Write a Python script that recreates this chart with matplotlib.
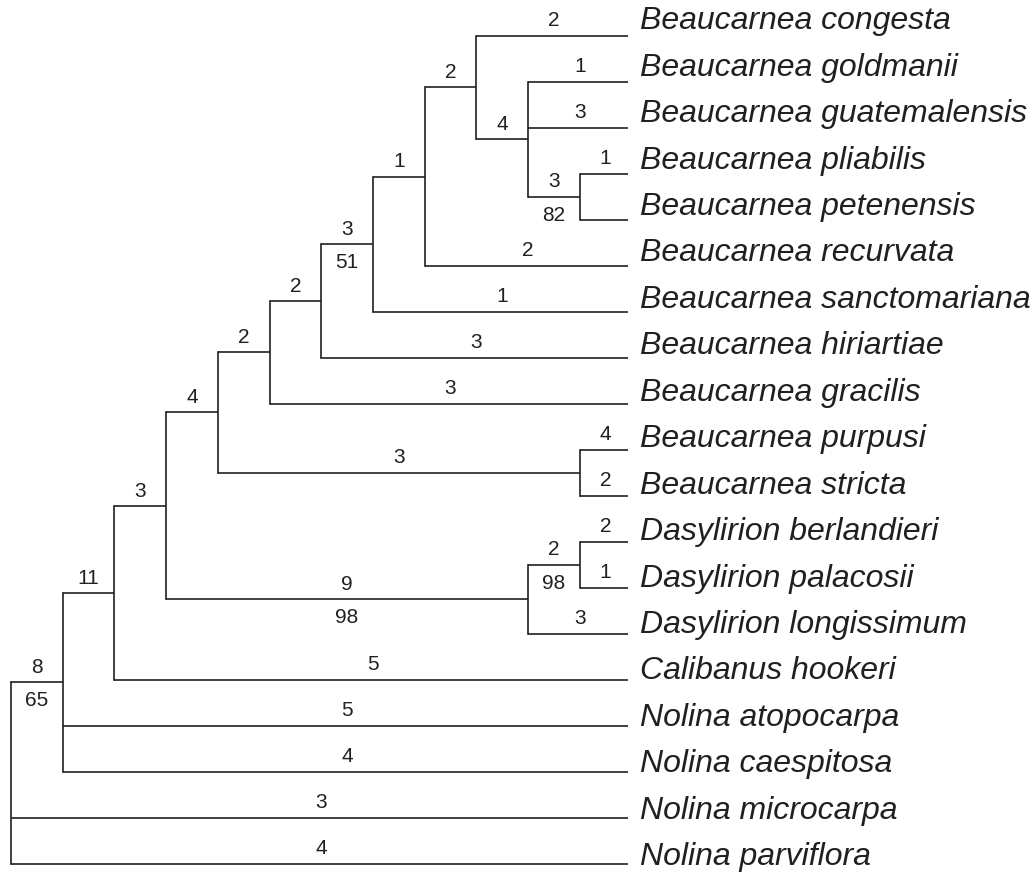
#!/usr/bin/env python

import matplotlib
matplotlib.use("Agg")
import matplotlib.pyplot as plt

plt.rcParams['font.family'] = ['Liberation Sans', 'DejaVu Sans']

# tips, top to bottom
taxa = ['Beaucarnea congesta', 'Beaucarnea goldmanii', 'Beaucarnea guatemalensis',
        'Beaucarnea pliabilis', 'Beaucarnea petenensis', 'Beaucarnea recurvata',
        'Beaucarnea sanctomariana', 'Beaucarnea hiriartiae', 'Beaucarnea gracilis',
        'Beaucarnea purpusi', 'Beaucarnea stricta', 'Dasylirion berlandieri',
        'Dasylirion palacosii', 'Dasylirion longissimum', 'Calibanus hookeri',
        'Nolina atopocarpa', 'Nolina caespitosa', 'Nolina microcarpa', 'Nolina parviflora']
tip_parent = ['I', 'J', 'J', 'K', 'K', 'H', 'G', 'F', 'E', 'L', 'L', 'N', 'N', 'M',
              'B', 'A', 'A', 'root', 'root']
tip_steps = [2, 1, 3, 1, None, 2, 1, 3, 3, 4, 2, 2, 1, 3, 5, 5, 4, 3, 4]

# internal nodes
nodes = ['root', 'A', 'B', 'C', 'D', 'E', 'F', 'G', 'H', 'I', 'J', 'K', 'L', 'M', 'N']
node_parent = [None, 'root', 'A', 'B', 'C', 'D', 'E', 'F', 'G', 'H', 'I', 'J', 'D', 'C', 'M']
node_steps = [None, 8, 11, 3, 4, 2, 2, 3, 1, 2, 4, 3, 3, 9, 2]
node_boot = [None, 65, None, None, None, None, None, 51, None, None, None, 82, None, 98, 98]

ink = '#231f20'

children = {n: [] for n in nodes}
for n, p in zip(nodes, node_parent):
    if p is not None:
        children[p].append(('node', n))
for i, p in enumerate(tip_parent):
    children[p].append(('tip', i))

height = {}
ypos = {}


def layout(n):
    hs, ys = [], []
    for kind, c in children[n]:
        if kind == 'tip':
            hs.append(0)
            ys.append(c)
        else:
            layout(c)
            hs.append(height[c])
            ys.append(ypos[c])
    height[n] = 1 + max(hs)
    ypos[n] = (min(ys) + max(ys)) / 2.0


layout('root')
top = height['root']
xpos = {n: top - height[n] for n in nodes}

fig = plt.figure(figsize=(10.34, 8.77), dpi=100)
ax = fig.add_axes([0, 0, 1, 1])
ax.set_xlim(-0.2128, 19.787)
ax.set_ylim(18.29, -0.776)
ax.axis('off')

lw = 1.2
tip_end = top - 0.07
fs_num = 15


def branch_label(x0, x1, y, step, boot):
    xm = (x0 + x1) / 2.0
    if step is not None:
        ax.text(xm, y - 0.2, str(step), ha='center', va='baseline', fontsize=fs_num, color=ink)
    if boot is not None:
        ax.text(xm, y + 0.52, str(boot), ha='center', va='baseline', fontsize=fs_num, color=ink)


for n in nodes:
    x = xpos[n]
    ys = []
    for kind, c in children[n]:
        if kind == 'tip':
            cy = c
            ax.plot([x, tip_end], [cy, cy], color=ink, lw=lw, solid_capstyle='butt')
            branch_label(x, top, cy, tip_steps[c], None)
            ax.text(top + 0.16, cy * 1.0097 - 0.14, taxa[c], ha='left', va='baseline',
                    fontsize=23, style='italic', color=ink)
        else:
            cy = ypos[c]
            j = nodes.index(c)
            ax.plot([x, xpos[c]], [cy, cy], color=ink, lw=lw, solid_capstyle='butt')
            branch_label(x, xpos[c], cy, node_steps[j], node_boot[j])
        ys.append(cy)
    ax.plot([x, x], [min(ys), max(ys)], color=ink, lw=lw, solid_capstyle='projecting')

plt.savefig("out.png", dpi=100)
